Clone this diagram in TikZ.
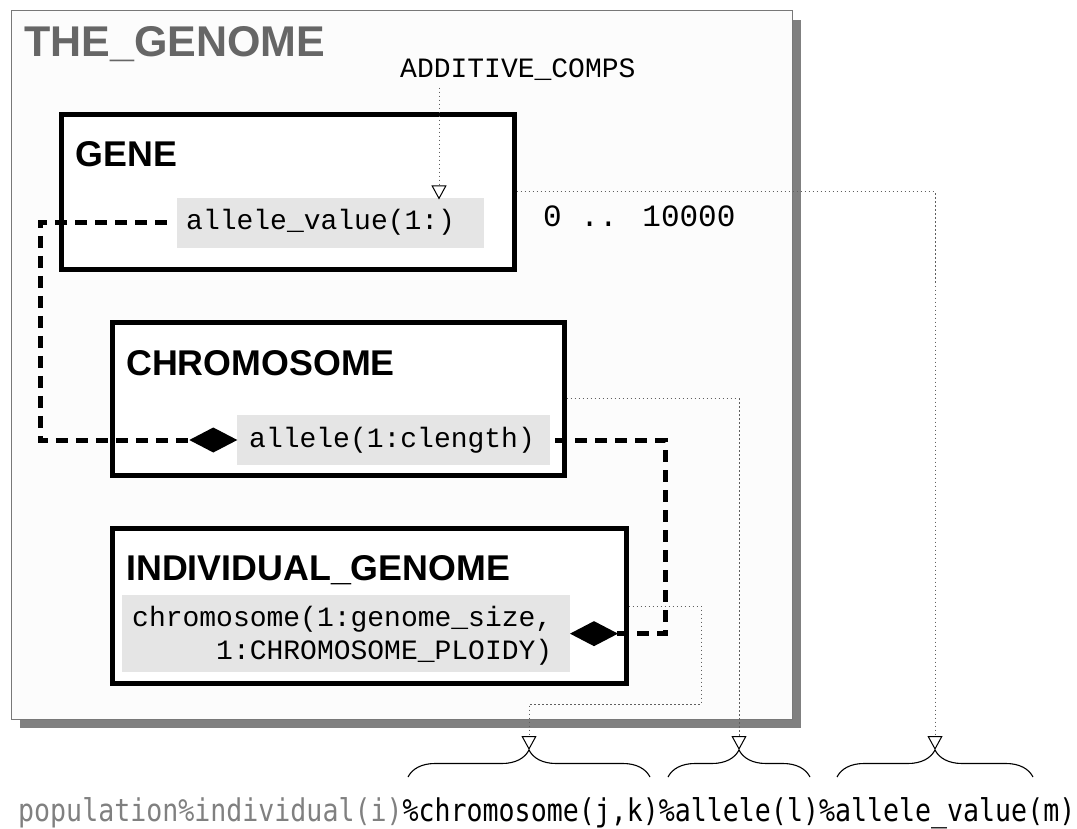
\documentclass[tikz,border=0pt]{standalone}
\usepackage{fontspec}
\setmainfont{Liberation Sans}
\newfontfamily\codefont{Liberation Mono}
\newfontfamily\pathfont[FakeStretch=0.85]{DejaVu Sans Mono}
\usetikzlibrary{arrows.meta,decorations.pathreplacing}

\definecolor{fieldgray}{RGB}{229,229,229}
\definecolor{shadowgray}{RGB}{128,128,128}
\definecolor{framegray}{RGB}{120,120,120}
\definecolor{titlegray}{RGB}{102,102,102}
\definecolor{pathgray}{RGB}{128,128,128}
\definecolor{refgray}{RGB}{95,95,95}

\tikzset{
  classbox/.style={draw=black, line width=5pt, fill=white, inner sep=0pt, outer sep=0pt, anchor=north west},
  classname/.style={anchor=base west, inner sep=0pt, font=\bfseries\fontsize{35.8}{40}\selectfont},
  fieldbox/.style={fill=fieldgray, inner sep=0pt, outer sep=0pt, anchor=north west},
  fieldtext/.style={anchor=base west, inner sep=0pt, font=\codefont\fontsize{28}{33}\selectfont},
  plaintext/.style={anchor=base west, inner sep=0pt},
  assoc/.style={line width=5pt, dash pattern=on 12pt off 8pt,
    -{Diamond[length=48pt,width=25pt,line width=0pt]}},
  refline/.style={draw=refgray, line width=1pt, dash pattern=on 1.5pt off 2.5pt,
    -{Triangle[open,length=14pt,width=15pt,line width=1pt,color=black]}},
  bracemark/.style={decorate, decoration={brace, amplitude=27pt}, line width=1.1pt, black},
}

\begin{document}
\begin{tikzpicture}[x=1pt,y=-1pt]
\useasboundingbox (0,0) rectangle (1077,829);

% enclosing module with its drop shadow
\fill[shadowgray] (20,20) rectangle (801,728);
\node[draw=framegray, line width=1pt, fill=white!99!black, inner sep=0pt, outer sep=0pt,
      anchor=north west, minimum width=781pt, minimum height=708pt] (genome) at (11,11) {};
\node[plaintext, font=\bfseries\fontsize{43}{48}\selectfont, text=titlegray]
      (title) at (24,57) {THE\_GENOME};

% derived types (positions are the centre lines of the frames)
\node[classbox, minimum width=453pt, minimum height=155pt] (gene) at (61,114.5) {};
\node[classbox, minimum width=452pt, minimum height=153.5pt] (chromosome) at (112,322) {};
\node[classbox, minimum width=514pt, minimum height=155pt] (indiv) at (112,528.5) {};

\node[classname] (geneName) at (75.5,167) {GENE};
\node[classname] (chromName) at (126,375) {CHROMOSOME};
\node[classname] (indivName) at (126,580) {INDIVIDUAL\_GENOME};

% components
\node[fieldbox, minimum width=307pt, minimum height=50.5pt] (valfield) at (177,197.7) {};
\node[fieldbox, minimum width=312.7pt, minimum height=50pt] (allelefield) at (237.3,415) {};
\node[fieldbox, minimum width=448.3pt, minimum height=77.3pt] (chromfield) at (121.7,595) {};

\node[fieldtext] (valtext) at (186,230) {allele\_value(1:)};
\node[fieldtext] (alleletext) at (249,447.7) {allele(1:clength)};
\node[fieldtext] (chromtext) at (132,626)
  {\vtop{\baselineskip=33pt\hbox{chromosome(1:genome\_size,}\hbox{\phantom{xxxxx}1:CHROMOSOME\_PLOIDY)}}};

% annotations
\node[plaintext, font=\codefont\fontsize{28}{33}\selectfont] (addc) at (400,77.5) {ADDITIVE\_COMPS};
\node[plaintext, font=\codefont\fontsize{31}{36}\selectfont] (range) at (543,227) {0 .. 10000};

% access path
\node[plaintext, font=\pathfont\fontsize{31.3}{34}\selectfont] (path) at (18,821)
  {\textcolor{pathgray}{population\%individual(i)}\%chromosome(j,k)\%allele(l)\%allele\_value(m)};

% braces under the path segments
\draw[bracemark] (408,777) -- (650,777);
\draw[bracemark] (668,777) -- (810,777);
\draw[bracemark] (837,777) -- (1033,777);
\coordinate (tipA) at (529,750);
\coordinate (tipB) at (739,750);
\coordinate (tipC) at (935,750);

% composition links
\coordinate (railL) at (40,0);
\coordinate (railR) at (665,0);
\coordinate (valStart) at ([xshift=-10pt]valfield.west);
\coordinate (alleleStart) at ([xshift=5pt]allelefield.east);
\draw[assoc] (valStart) -- (valStart -| railL) |- (allelefield.west);
\draw[assoc] (alleleStart) -- (alleleStart -| railR) |- (chromfield.east);

% reference links
\coordinate (addTip) at (439,199.5);
\coordinate (indivTurn) at (701,704);
\draw[refline] ([yshift=-7pt]addTip |- addc.south) -- (addTip);
\draw[refline] ([xshift=2.5pt]gene.east) -| (tipC);
\draw[refline] ([xshift=2.5pt]chromosome.east) -| (tipB);
\draw[refline] ([xshift=2.5pt]indiv.east) -| (indivTurn) -| (tipA);
\end{tikzpicture}
\end{document}
